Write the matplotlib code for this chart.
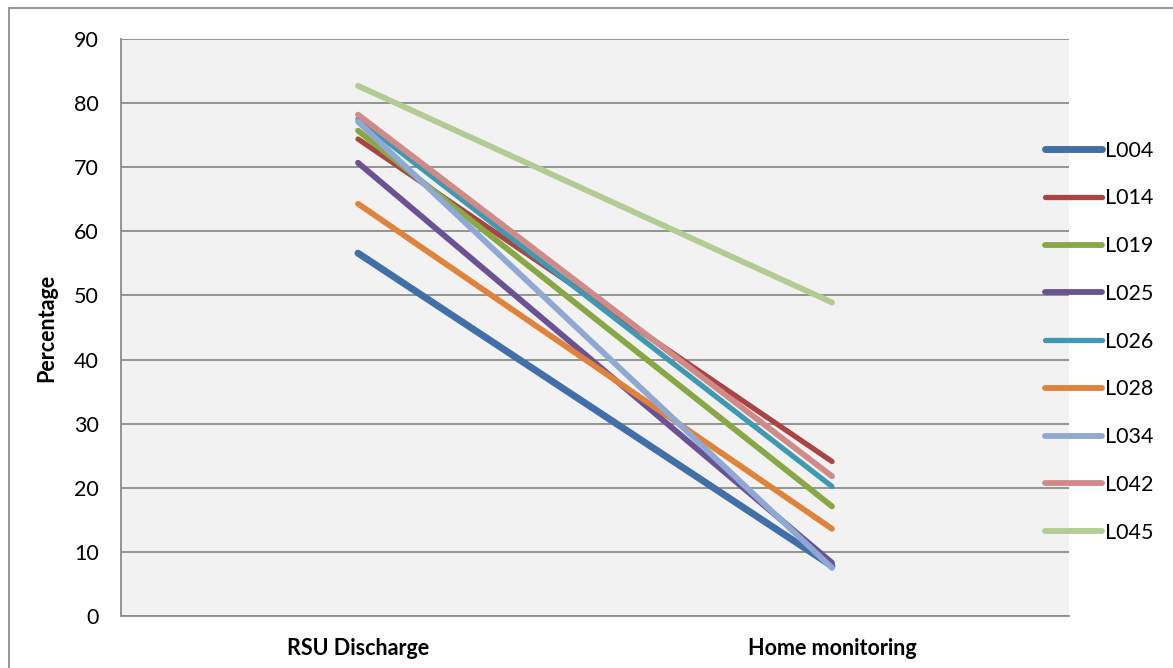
import matplotlib.pyplot as plt
from matplotlib.patches import Rectangle

# ── Data ──────────────────────────────────────────────────────────────────────
categories = ["RSU Discharge", "Home monitoring"]
series = ["L004", "L014", "L019", "L025", "L026", "L028", "L034", "L042", "L045"]
rsu_discharge = [56.6, 74.4, 75.7, 70.7, 77.5, 64.3, 77.1, 78.2, 82.7]
home_monitoring = [7.8, 24.1, 17.1, 8.3, 20.2, 13.6, 7.5, 21.8, 48.9]

colors = ["#4170A9", "#A94442", "#87A845", "#6B5296", "#3E9AB2",
          "#E0823A", "#8FA9D4", "#D08B88", "#B3CC93"]
widths = [5.0, 3.8, 4.2, 4.2, 3.8, 4.2, 4.2, 4.2, 4.2]

plt.rcParams["font.family"] = ["Lato", "DejaVu Sans"]

fig = plt.figure(figsize=(11.73, 6.68), dpi=100)
ax = fig.add_axes([121 / 1173, 52 / 668, 948 / 1173, 577 / 668])
ax.set_facecolor("#F2F2F2")

x = list(range(len(categories)))
for name, a, b, c, w in zip(series, rsu_discharge, home_monitoring, colors, widths):
    ax.plot(x, [a, b], color=c, lw=w, solid_capstyle="round", label=name, zorder=3)

ax.set_xlim(-0.5, len(categories) - 0.5)
ax.set_ylim(0, 90)
ax.set_yticks(range(0, 91, 10))
ax.set_xticks(x)
ax.set_xticklabels(categories, fontsize=15.5, fontweight="bold")
ax.tick_params(axis="y", labelsize=15.5, length=0, pad=16)
ax.tick_params(axis="x", length=0, pad=16)
ax.yaxis.grid(True, color="#8C8C8C", lw=1.3)
ax.set_axisbelow(True)
for s in ["top", "right"]:
    ax.spines[s].set_visible(False)
ax.spines["left"].set_color("#8C8C8C")
ax.spines["bottom"].set_color("#8C8C8C")
ax.spines["left"].set_linewidth(1.3)
ax.spines["bottom"].set_linewidth(1.3)

ax.set_ylabel("Percentage", fontsize=15.5, fontweight="bold", labelpad=12)

leg = fig.legend(loc="upper left", bbox_to_anchor=(1036 / 1173, 1 - 132 / 668),
                 frameon=False, fontsize=15.5, handlelength=2.65, handletextpad=0.15,
                 labelspacing=1.29, borderaxespad=0)
for h in leg.legend_handles:
    h.set_solid_capstyle("round")

# outer chart border
fig.patches.append(Rectangle((9 / 1173, -0.01), 1.2, 1 - 8 / 668 + 0.01,
                             transform=fig.transFigure, fill=False,
                             edgecolor="#8C8C8C", lw=1.3))

fig.savefig("out.png", dpi=100)
